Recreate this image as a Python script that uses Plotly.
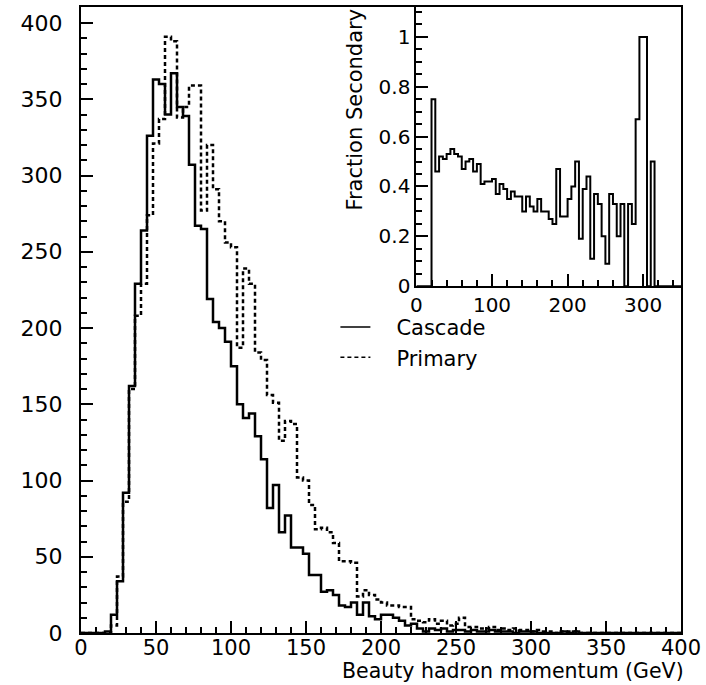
import numpy as np
import plotly.graph_objects as go

# ---------------- data ----------------
# main histogram: 100 bins of 4 GeV between 0 and 400 GeV
bin_edges_main = list(range(0, 404, 4))

cascade = [0, 0, 0, 0, 1, 12, 34, 92, 162, 229,
           264, 326, 363, 360, 340, 367, 345, 339, 307, 267,
           265, 219, 204, 200, 191, 175, 150, 141, 144, 129,
           114, 82, 97, 66, 77, 56, 56, 52, 38, 38,
           27, 28, 25, 18, 17, 20, 12, 20, 11, 9,
           12, 12, 10, 8, 5, 6, 3, 1, 3, 2,
           3, 1, 2, 2, 1, 2, 1, 1, 2, 1,
           1, 1, 0, 1, 1, 1, 0, 0, 0, 0,
           1, 0, 1, 0, 0, 0, 0, 0, 0, 0,
           0, 0, 0, 0, 0, 0, 0, 0, 0, 0]

primary = [0, 0, 0, 0, 0, 5, 37, 86, 160, 208,
           229, 274, 321, 337, 391, 388, 338, 345, 359, 359,
           277, 320, 291, 270, 256, 253, 187, 239, 229, 184,
           179, 156, 151, 126, 139, 137, 102, 100, 84, 68,
           69, 66, 59, 47, 47, 46, 24, 28, 25, 22,
           20, 18, 18, 17, 17, 9, 8, 7, 9, 6,
           8, 5, 6, 10, 4, 4, 3, 3, 4, 2,
           3, 2, 3, 2, 2, 1, 2, 1, 1, 0,
           1, 1, 1, 0, 0, 0, 0, 0, 0, 0,
           0, 0, 0, 0, 0, 0, 0, 0, 0, 0]

# inset: fraction of secondary (cascade) production, 5 GeV bins 0..350
bin_edges_inset = list(range(0, 355, 5))
fraction = [0, 0, 0, 0, 0.75, 0.46, 0.52, 0.51, 0.53, 0.55,
            0.53, 0.52, 0.47, 0.50, 0.51, 0.46, 0.49, 0.41, 0.42, 0.42,
            0.43, 0.37, 0.41, 0.39, 0.35, 0.38, 0.36, 0.36, 0.30, 0.36,
            0.32, 0.30, 0.35, 0.30, 0.30, 0.27, 0.25, 0.47, 0.28, 0.28,
            0.35, 0.40, 0.50, 0.19, 0.39, 0.44, 0.11, 0.37, 0.33, 0.20,
            0.09, 0.37, 0.33, 0.20, 0.33, 0.0, 0.33, 0.25, 0.67, 1.0,
            1.0, 0.0, 0.5, 0, 0, 0, 0, 0, 0, 0]

x_ticks_main = [0, 50, 100, 150, 200, 250, 300, 350, 400]
y_ticks_main = [0, 50, 100, 150, 200, 250, 300, 350, 400]
x_ticks_inset = [0, 100, 200, 300]
y_ticks_inset = [0, 0.2, 0.4, 0.6, 0.8, 1]

FONT = "DejaVu Sans"
GAP = "\u2002\u2002"


def step_xy(edges, values):
    return list(edges), list(values) + [values[-1]]


fig = go.Figure()

xs, ys = step_xy(bin_edges_main, cascade)
fig.add_trace(go.Scatter(x=xs, y=ys, mode="lines", line_shape="hv",
                         line=dict(color="black", width=2.5),
                         showlegend=False, xaxis="x", yaxis="y"))
xs, ys = step_xy(bin_edges_main, primary)
fig.add_trace(go.Scatter(x=xs, y=ys, mode="lines", line_shape="hv",
                         line=dict(color="black", width=2.5, dash="4px,3px"),
                         showlegend=False, xaxis="x", yaxis="y"))

# legend entries
fig.add_trace(go.Scatter(x=[None], y=[None], mode="lines", name=GAP + "Cascade",
                         line=dict(color="black", width=1.5)))
fig.add_trace(go.Scatter(x=[None], y=[None], mode="lines", name=GAP + "Primary",
                         line=dict(color="black", width=1.5, dash="4px,3px")))

xs, ys = step_xy(bin_edges_inset, fraction)
fig.add_trace(go.Scatter(x=xs, y=ys, mode="lines", line_shape="hv",
                         line=dict(color="black", width=2),
                         showlegend=False, xaxis="x2", yaxis="y2"))

axis_common = dict(showline=True, linecolor="black", linewidth=2, mirror=True,
                   ticks="inside", tickcolor="black", tickwidth=1.5,
                   showgrid=False, zeroline=False)

main_font = dict(family=FONT, size=21, color="black")
inset_font = dict(family=FONT, size=20, color="black")

fig.update_layout(
    width=706, height=685,
    margin=dict(l=81, r=24, t=5, b=52),
    paper_bgcolor="white", plot_bgcolor="white",
    font=dict(family=FONT, size=21, color="black"),
    xaxis=dict(domain=[0, 1], range=[0, 400], tickvals=x_ticks_main,
               ticklen=12, ticklabelstandoff=-5, tickfont=main_font,
               minor=dict(dtick=10, ticklen=6, ticks="inside",
                          tickcolor="black", tickwidth=1.5),
               **axis_common),
    yaxis=dict(domain=[0, 1], range=[0, 410.5], tickvals=y_ticks_main,
               ticklen=12, ticklabelstandoff=12, tickfont=dict(family=FONT, size=22, color="black"),
               minor=dict(dtick=10, ticklen=6, ticks="inside",
                          tickcolor="black", tickwidth=1.5),
               **axis_common),
    xaxis2=dict(domain=[0.559, 1], range=[0, 350], anchor="y2",
                tickvals=x_ticks_inset, ticklen=12, tickfont=inset_font,
                minor=dict(dtick=20, ticklen=6, ticks="inside",
                           tickcolor="black", tickwidth=1.5),
                **axis_common),
    yaxis2=dict(domain=[0.554, 1], range=[0, 1.12], anchor="x2",
                tickvals=y_ticks_inset, ticklen=12, tickfont=inset_font,
                minor=dict(dtick=0.05, ticklen=6, ticks="inside",
                           tickcolor="black", tickwidth=1.5),
                **axis_common),
    legend=dict(x=0.424, y=0.521, xanchor="left", yanchor="top",
                bgcolor="rgba(0,0,0,0)", font=dict(family=FONT, size=21),
                itemwidth=30, tracegroupgap=0),
    annotations=[
        dict(text="Beauty hadron momentum (GeV)", xref="paper", yref="paper",
             x=1.008, y=-0.0605, xanchor="right", yanchor="middle",
             showarrow=False, font=dict(family=FONT, size=20.5)),
        dict(text="Fraction Secondary", xref="paper", yref="paper",
             x=0.456, y=1.0, xanchor="center", yanchor="top", textangle=-90,
             showarrow=False, font=dict(family=FONT, size=21)),
    ],
)

fig.write_html("out.html")
